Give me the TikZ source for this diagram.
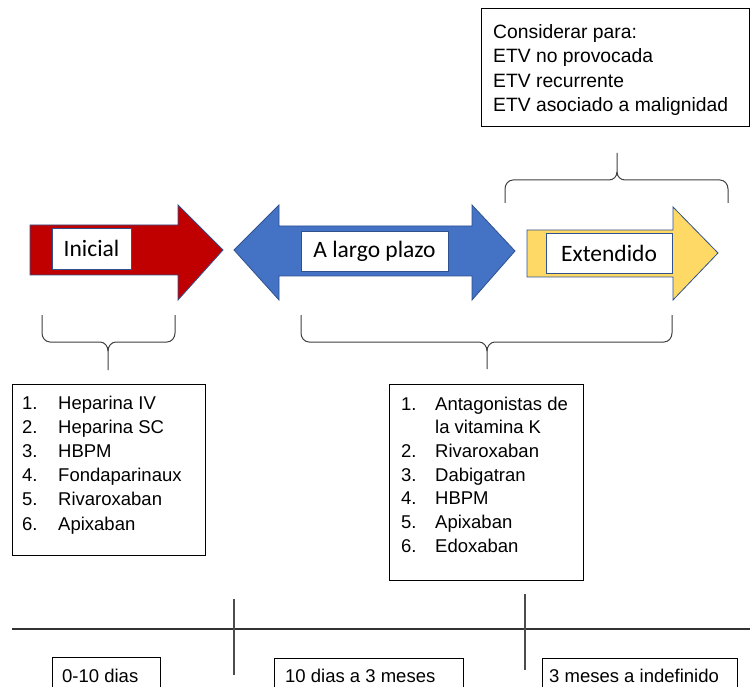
\documentclass[tikz,border=0pt]{standalone}
\usepackage{fontspec}
\setmainfont{Liberation Sans}
\newfontfamily\calib{Carlito}
\definecolor{cred}{HTML}{C00000}
\definecolor{cblue}{HTML}{4472C4}
\definecolor{cyel}{HTML}{FFD966}
\definecolor{cedge}{HTML}{2F528F}
\definecolor{cbrace}{HTML}{404040}
\tikzset{
  arrowshape/.style={draw=cedge, line width=0.8pt, line join=miter},
  lblbox/.style={draw=cedge, fill=white, line width=0.8pt, inner sep=0pt, font=\calib\fontsize{23.5}{28}\selectfont},
  plainbox/.style={draw=black, line width=1pt, inner sep=0pt, anchor=north west},
  brace/.style={draw=cbrace, line width=1pt},
  listtxt/.style={anchor=base west, inner sep=0pt, font=\fontsize{18.5}{22}\selectfont},
  toptxt/.style={anchor=base west, inner sep=0pt, font=\fontsize{19.3}{23}\selectfont},
  timeline/.style={draw=black!80, line width=1.1pt},
}
\begin{document}
\begin{tikzpicture}[x=1pt,y=-1pt]
\clip (0,0) rectangle (750,687);
\fill[white] (0,0) rectangle (750,687);
% arrows
\draw[arrowshape, fill=cred] (30,225) -- (178,225) -- (178,205) -- (223,250) -- (178,300) -- (178,275) -- (30,275) -- cycle;
\draw[arrowshape, fill=cblue] (234,250) -- (279,205) -- (279,226) -- (472,226) -- (472,205) -- (515,251) -- (472,300) -- (472,276) -- (279,276) -- (279,300) -- cycle;
\draw[arrowshape, fill=cyel] (527,230) -- (673,230) -- (673,207) -- (718,253) -- (673,300) -- (673,277) -- (527,277) -- cycle;
% labels
\node[lblbox, minimum width=79, minimum height=41] (ini) at (91.5,248.5) {Inicial};
\node[lblbox, minimum width=147, minimum height=40] (lar) at (374.5,251) {A largo plazo};
\node[lblbox, minimum width=126, minimum height=40] (ext) at (609,253) {Extendido};
% top box
\node[plainbox, minimum width=268, minimum height=118] (top) at (481,8) {};
\node[toptxt] (top1) at (493,39) {Considerar para:};
\node[toptxt] (top2) at (493,63) {ETV no provocada};
\node[toptxt] (top3) at (493,87.5) {ETV recurrente};
\node[toptxt] (top4) at (493,112) {ETV asociado a malignidad};
% top brace
\draw[brace] (505,203) -- (505,189) to[out=90,in=180] (513,180) -- (609,180) to[out=0,in=-90] (617,172) -- (617,153);
\draw[brace] (617,172) to[out=-90,in=180] (625,180) -- (720,180) to[out=0,in=90] (728,189) -- (728,203);
% bottom brace 1
\draw[brace] (42,315) -- (42,333) to[out=-90,in=180] (50,342) -- (100,342) to[out=0,in=90] (108,351) -- (108,370);
\draw[brace] (108,351) to[out=90,in=180] (116,342) -- (167,342) to[out=0,in=-90] (175,333) -- (175,315);
% bottom brace 2
\draw[brace] (301,315) -- (301,333) to[out=-90,in=180] (309,342) -- (479,342) to[out=0,in=90] (487,351) -- (487,369);
\draw[brace] (487,351) to[out=90,in=180] (495,342) -- (664,342) to[out=0,in=-90] (672,333) -- (672,315);
% list 1
\node[plainbox, minimum width=193, minimum height=171] (list1) at (12,384) {};
\foreach \n/\t [count=\i] in {1./Heparina IV, 2./Heparina SC, 3./HBPM, 4./Fondaparinaux, 5./Rivaroxaban, 6./Apixaban}{
  \node[listtxt] (la\i) at (22,{409+(\i-1)*24.2}) {\n};
  \node[listtxt] (lb\i) at (58,{409+(\i-1)*24.2}) {\t};
}
% list 2
\node[plainbox, minimum width=194, minimum height=196] (list2) at (389,384) {};
\node[listtxt] (ma1) at (401,410) {1.};
\node[listtxt] (mb1) at (435,410) {Antagonistas de};
\node[listtxt] (mb1b) at (435,433.7) {la vitamina K};
\foreach \n/\t [count=\i] in {2./Rivaroxaban, 3./Dabigatran, 4./HBPM, 5./Apixaban, 6./Edoxaban}{
  \node[listtxt] (ma\i) at (401,{457.4+(\i-1)*23.7}) {\n};
  \node[listtxt] (mb\i) at (435,{457.4+(\i-1)*23.7}) {\t};
}
% timeline
\coordinate (tl0) at (12,629);
\coordinate (tl1) at (750,629);
\draw[timeline] (tl0) -- (tl1);
\coordinate (v1a) at (234,599);
\coordinate (v1b) at (234,675);
\coordinate (v2a) at (525,594);
\coordinate (v2b) at (525,670);
\draw[timeline, draw=black!70] (v1a) -- (v1b);
\draw[timeline, draw=black!70] (v2a) -- (v2b);
% bottom boxes
\node[plainbox, minimum width=108, minimum height=50] (b1) at (52,657) {};
\node[plainbox, minimum width=189, minimum height=50] (b2) at (274,658) {};
\node[plainbox, minimum width=195, minimum height=50] (b3) at (542,658) {};
\node[listtxt] (b1t) at (62,682) {0-10 dias};
\node[listtxt] (b2t) at (285,682) {10 dias a 3 meses};
\node[listtxt] (b3t) at (549,682) {3 meses a indefinido};
\end{tikzpicture}
\end{document}
